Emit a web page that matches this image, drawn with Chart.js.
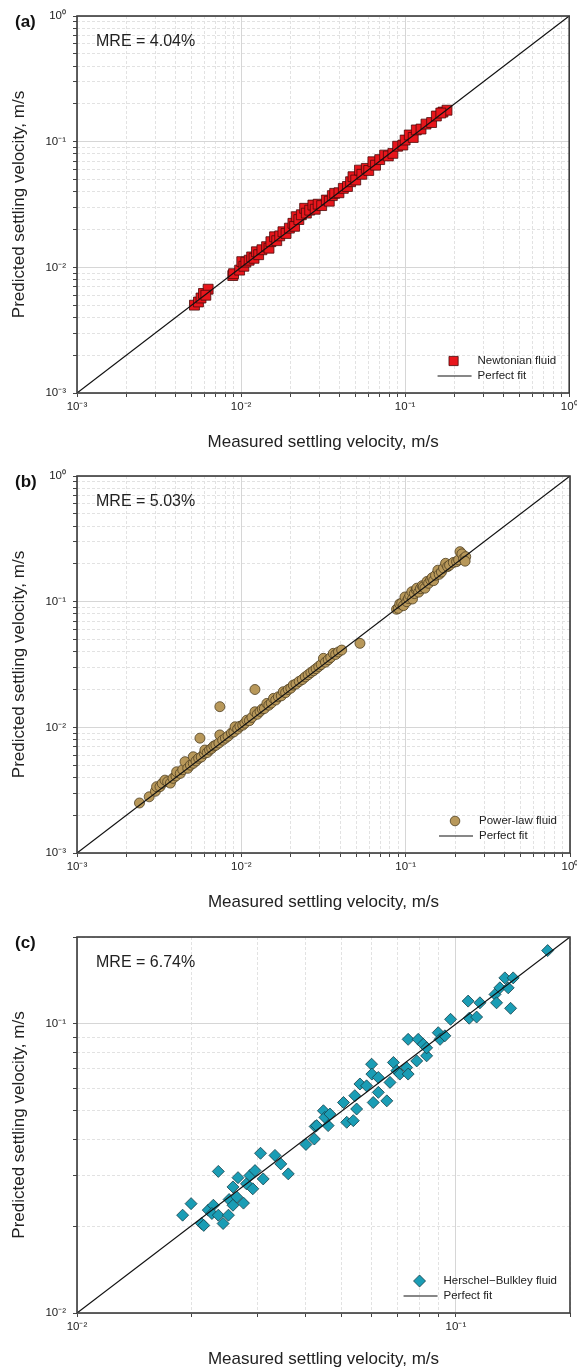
<!DOCTYPE html>
<html>
<head>
<meta charset="utf-8">
<script src="https://cdn.jsdelivr.net/npm/chart.js@4.4.1/dist/chart.umd.min.js"></script>
<style>
  html, body { margin: 0; padding: 0; background: #fff; }
  #wrap { position: relative; width: 577px; height: 1368px; overflow: hidden; }
  canvas { position: absolute; left: 0; }
</style>
</head>
<body>
<div id="wrap">
  <canvas id="chartA" width="577" height="462" style="top:0px"></canvas>
  <canvas id="chartB" width="577" height="460" style="top:462px"></canvas>
  <canvas id="chartC" width="577" height="446" style="top:922px"></canvas>
</div>
<script>
// ---- data (measured vs predicted, m/s) ----

// (a) Newtonian fluid
const newtonianMeasured = [
  0.0052, 0.0055, 0.0057, 0.0059, 0.0063, 0.0061, 0.0089, 0.0090, 0.0098, 0.0101,
  0.0104, 0.0107, 0.0112, 0.0116, 0.0120, 0.0124, 0.0128, 0.0134, 0.0143, 0.0148,
  0.0152, 0.0160, 0.0165, 0.0172, 0.0180, 0.0188, 0.0197, 0.0207, 0.0212, 0.0217,
  0.0225, 0.0233, 0.0244, 0.0250, 0.0262, 0.0274, 0.0283, 0.0295, 0.0310, 0.0331,
  0.0345, 0.0360, 0.0372, 0.0395, 0.0420, 0.0445, 0.0465, 0.0481, 0.0500, 0.0527,
  0.0545, 0.0580, 0.0600, 0.0636, 0.0660, 0.0700, 0.0750, 0.0790, 0.0842, 0.0900,
  0.0968, 0.1000, 0.1060, 0.1120, 0.1170, 0.1250, 0.1340, 0.1450, 0.1550, 0.1700,
  0.1800, 0.1650
];
const newtonianPredicted = [
  0.0050, 0.0053, 0.0057, 0.0062, 0.0067, 0.0060, 0.0086, 0.0089, 0.0095, 0.0111,
  0.0102, 0.0110, 0.0114, 0.0121, 0.0118, 0.0133, 0.0126, 0.0138, 0.0146, 0.0142,
  0.0160, 0.0175, 0.0163, 0.0178, 0.0192, 0.0186, 0.0205, 0.0224, 0.0212, 0.0253,
  0.0240, 0.0262, 0.0295, 0.0270, 0.0285, 0.0313, 0.0290, 0.0318, 0.0310, 0.0343,
  0.0336, 0.0372, 0.0388, 0.0392, 0.0425, 0.0440, 0.0480, 0.0526, 0.0495, 0.0594,
  0.0550, 0.0613, 0.0590, 0.0692, 0.0650, 0.0720, 0.0782, 0.0770, 0.0807, 0.0920,
  0.0940, 0.1030, 0.1130, 0.1080, 0.1240, 0.1260, 0.1380, 0.1420, 0.1600, 0.1720,
  0.1780, 0.1690
];

// (b) Power-law fluid
const powerLawMeasured = [
  0.0024, 0.00275, 0.0030, 0.00305, 0.0032, 0.0033, 0.00343, 0.00356, 0.0037, 0.00384,
  0.0040, 0.00404, 0.00425, 0.0044, 0.00454, 0.00472, 0.0049, 0.0051, 0.0051, 0.0053,
  0.0055, 0.0056, 0.0057, 0.00595, 0.0060, 0.0062, 0.0064, 0.0066, 0.0068, 0.0070,
  0.0073, 0.0074, 0.0074, 0.0077, 0.0080, 0.0083, 0.0087, 0.0090, 0.00916, 0.0095,
  0.0098, 0.0102, 0.0105, 0.0108, 0.0112, 0.0116, 0.0121, 0.0121, 0.0125, 0.0130,
  0.0134, 0.0138, 0.0143, 0.0147, 0.0152, 0.0157, 0.0162, 0.0168, 0.0175, 0.0180,
  0.0186, 0.0193, 0.0200, 0.0207, 0.0215, 0.0225, 0.0235, 0.0245, 0.0255, 0.0265,
  0.0275, 0.0285, 0.0296, 0.0306, 0.0316, 0.0325, 0.0338, 0.0350, 0.0363, 0.0375,
  0.0390, 0.0408, 0.0527, 0.0880, 0.0903, 0.0920, 0.0946, 0.0970, 0.0990, 0.1016,
  0.1040, 0.1060, 0.1090, 0.1100, 0.1130, 0.1160, 0.1170, 0.1200, 0.1230, 0.1260,
  0.1280, 0.1310, 0.1350, 0.1380, 0.1420, 0.1450, 0.1480, 0.1520, 0.1570, 0.1600,
  0.1650, 0.1700, 0.1750, 0.1800, 0.1850, 0.1950, 0.2040, 0.2100, 0.2140, 0.2200,
  0.2250, 0.2320, 0.2300
];
const powerLawPredicted = [
  0.0025, 0.0028, 0.0031, 0.00337, 0.00337, 0.00358, 0.0038, 0.00369, 0.0036, 0.00393,
  0.0041, 0.00443, 0.0043, 0.0046, 0.00533, 0.00472, 0.0050, 0.00517, 0.00583, 0.0054,
  0.00567, 0.0082, 0.0058, 0.0062, 0.0066, 0.0063, 0.0066, 0.0068, 0.0071, 0.0072,
  0.0075, 0.0087, 0.0146, 0.0079, 0.0082, 0.0085, 0.0090, 0.0092, 0.0101, 0.0097,
  0.0102, 0.0104, 0.0108, 0.0114, 0.0113, 0.0120, 0.0133, 0.0200, 0.0127, 0.0134,
  0.0140, 0.0141, 0.0155, 0.0150, 0.0156, 0.0170, 0.0165, 0.0175, 0.0178, 0.0192,
  0.0189, 0.0200, 0.0205, 0.0217, 0.0221, 0.0232, 0.0240, 0.0252, 0.0262, 0.0273,
  0.0282, 0.0293, 0.0305, 0.0316, 0.0354, 0.0330, 0.0345, 0.0360, 0.0388, 0.0380,
  0.0398, 0.0412, 0.0466, 0.0870, 0.0885, 0.0960, 0.0970, 0.0930, 0.1090, 0.1000,
  0.1060, 0.1120, 0.1200, 0.1050, 0.1160, 0.1240, 0.1280, 0.1190, 0.1270, 0.1340,
  0.1310, 0.1280, 0.1450, 0.1400, 0.1490, 0.1550, 0.1470, 0.1620, 0.1780, 0.1650,
  0.1720, 0.1850, 0.2020, 0.1900, 0.1950, 0.2050, 0.2080, 0.2150, 0.2500, 0.2400,
  0.2200, 0.2280, 0.2100
];

// (c) Herschel-Bulkley fluid
const hbMeasured = [
  0.0190, 0.0200, 0.0213, 0.0216, 0.0222, 0.0229, 0.0227, 0.0236, 0.0236, 0.0243,
  0.0251, 0.0252, 0.0258, 0.0258, 0.0264, 0.0266, 0.0275, 0.0280, 0.0286, 0.0291,
  0.0295, 0.0305, 0.0310, 0.0333, 0.0345, 0.0361, 0.0402, 0.0423, 0.0425, 0.0429,
  0.0447, 0.0451, 0.0460, 0.0465, 0.0505, 0.0515, 0.0536, 0.0541, 0.0547, 0.0558,
  0.0581, 0.0599, 0.0600, 0.0605, 0.0624, 0.0624, 0.0657, 0.0670, 0.0684, 0.0698,
  0.0711, 0.0741, 0.0748, 0.0748, 0.0788, 0.0795, 0.0820, 0.0837, 0.0837, 0.0898,
  0.0908, 0.0935, 0.0968, 0.1077, 0.1084, 0.1134, 0.1157, 0.1268, 0.1280, 0.1306,
  0.1346, 0.1374, 0.1394, 0.1416, 0.1746
];
const hbPredicted = [
  0.0218, 0.0239, 0.0204, 0.0201, 0.0227, 0.0236, 0.0221, 0.0309, 0.0218, 0.0204,
  0.0218, 0.0247, 0.0273, 0.0236, 0.0252, 0.0294, 0.0240, 0.0280, 0.0299, 0.0269,
  0.0311, 0.0357, 0.0291, 0.0351, 0.0328, 0.0303, 0.0383, 0.0400, 0.0442, 0.0445,
  0.0501, 0.0475, 0.0445, 0.0488, 0.0535, 0.0457, 0.0463, 0.0565, 0.0508, 0.0620,
  0.0611, 0.0726, 0.0671, 0.0535, 0.0653, 0.0580, 0.0542, 0.0628, 0.0736, 0.0689,
  0.0671, 0.0707, 0.0671, 0.0885, 0.0745, 0.0885, 0.0851, 0.0776, 0.0827, 0.0933,
  0.0885, 0.0910, 0.1038, 0.1200, 0.1047, 0.1057, 0.1184, 0.1266, 0.1184, 0.1334,
  0.1444, 0.1334, 0.1133, 0.1444, 0.1795
];

// axis ranges and labelled ticks
const rangeAB = [0.001, 1];
const rangeC = [0.01, 0.2];
const majorTicksAB = [0.001, 0.01, 0.1, 1];
const majorLabelsAB = ['10\u207B\u00B3', '10\u207B\u00B2', '10\u207B\u00B9', '10\u2070'];
const majorTicksC = [0.01, 0.1];
const majorLabelsC = ['10\u207B\u00B2', '10\u207B\u00B9'];

const panelLabels = ['(a)', '(b)', '(c)'];
const mreTexts = ['MRE = 4.04%', 'MRE = 5.03%', 'MRE = 6.74%'];
const fluidNames = ['Newtonian fluid', 'Power-law fluid', 'Herschel\u2212Bulkley fluid'];
const fitName = 'Perfect fit';
const xTitle = 'Measured settling velocity, m/s';
const yTitle = 'Predicted settling velocity, m/s';

const FONT = "'Liberation Sans', Arial, Helvetica, sans-serif";
Chart.defaults.font.family = FONT;

// grid lines at 1..9 x each decade, up to the axis max
function gridValues(range) {
  const vals = [];
  for (let d = range[0]; d < range[1] * 0.999; d *= 10) {
    for (let k = 1; k <= 9; k++) {
      const v = parseFloat((d * k).toPrecision(6));
      if (v <= range[1] * 1.0001) vals.push(v);
    }
  }
  if (Math.abs(vals[vals.length - 1] - range[1]) > range[1] * 1e-6) vals.push(range[1]);
  return vals;
}

function findMajor(v, majors) {
  return majors.findIndex(m => Math.abs(Math.log10(v) - Math.log10(m)) < 1e-6);
}

function pairUp(xs, ys) {
  return xs.map((x, i) => ({ x: x, y: ys[i] }));
}

function drawMarker(ctx, style, x, y, r) {
  ctx.beginPath();
  if (style === 'rect') {
    const s = r * Math.SQRT1_2;
    ctx.rect(x - s, y - s, 2 * s, 2 * s);
  } else if (style === 'rectRot') {
    ctx.moveTo(x, y - r); ctx.lineTo(x + r, y); ctx.lineTo(x, y + r); ctx.lineTo(x - r, y); ctx.closePath();
  } else {
    ctx.arc(x, y, r, 0, Math.PI * 2);
  }
  ctx.fill();
  ctx.stroke();
}

// frame, panel letter, MRE note and the little legend in the bottom-right corner
const decorPlugin = {
  id: 'decor',
  afterDraw(chart, args, opts) {
    const { ctx, chartArea: a } = chart;
    ctx.save();
    ctx.strokeStyle = '#3a3a3a';
    ctx.lineWidth = 1.6;
    ctx.strokeRect(a.left, a.top, a.right - a.left, a.bottom - a.top);

    ctx.fillStyle = '#111';
    ctx.textBaseline = 'middle';
    ctx.textAlign = 'left';
    ctx.font = 'bold 17px ' + FONT;
    ctx.fillText(opts.label, 15, a.top + 6);

    ctx.font = '16px ' + FONT;
    ctx.fillStyle = '#222';
    ctx.fillText(opts.mre, a.left + 19, a.top + 26);

    // legend
    ctx.font = '11.5px ' + FONT;
    const tw = ctx.measureText(opts.name).width;
    const tx = a.right - 13 - tw;
    const y1 = a.bottom - 32;
    const y2 = y1 + 15;
    ctx.fillStyle = opts.fill;
    ctx.strokeStyle = opts.edge;
    ctx.lineWidth = 0.8;
    drawMarker(ctx, opts.style, tx - 24, y1, opts.legendRadius);
    ctx.strokeStyle = '#111';
    ctx.lineWidth = 1.2;
    ctx.beginPath();
    ctx.moveTo(tx - 40, y2);
    ctx.lineTo(tx - 6, y2);
    ctx.stroke();
    ctx.fillStyle = '#222';
    ctx.fillText(opts.name, tx, y1);
    ctx.fillText(fitName, tx, y2);
    ctx.restore();
  }
};

function logAxis(axis, range, majors, labels, canvasH, chartBottom, titlePad) {
  const grids = gridValues(range);
  const isX = axis === 'x';
  return {
    type: 'logarithmic',
    position: isX ? 'bottom' : 'left',
    min: range[0],
    max: range[1],
    afterBuildTicks: (s) => { s.ticks = grids.map(v => ({ value: v })); },
    afterFit: (s) => {
      if (isX) s.height = canvasH - chartBottom; else s.width = 77;
      s.paddingLeft = 0; s.paddingRight = 0; s.paddingTop = 0; s.paddingBottom = 0;
    },
    ticks: {
      autoSkip: false,
      maxRotation: 0,
      minRotation: 0,
      padding: isX ? 3 : 7,
      color: '#222',
      font: { size: 11.5 },
      callback: (v) => {
        const i = findMajor(v, majors);
        return i >= 0 ? labels[i] : '';
      }
    },
    grid: {
      color: (c) => (c.tick && findMajor(c.tick.value, majors) >= 0) ? '#d6d6d6' : '#e2e2e2',
      lineWidth: 1,
      drawTicks: true,
      tickLength: 4,
      tickColor: '#444',
      tickWidth: 1
    },
    border: {
      display: false,
      dash: (c) => (c.tick && findMajor(c.tick.value, majors) >= 0) ? [] : [3, 2]
    },
    title: {
      display: true,
      text: isX ? xTitle : yTitle,
      color: '#222',
      font: { size: 17, lineHeight: 1 },
      padding: isX ? { top: 0, bottom: titlePad } : { top: titlePad, bottom: 0 }
    }
  };
}

function makePanel(id, idx, xs, ys, range, majors, labels, look, layoutBox) {
  const canvas = document.getElementById(id);
  const H = canvas.height;
  return new Chart(canvas, {
    type: 'scatter',
    data: {
      datasets: [
        {
          label: fitName,
          type: 'line',
          data: [{ x: range[0], y: range[0] }, { x: range[1], y: range[1] }],
          borderColor: '#111',
          borderWidth: 1.2,
          pointRadius: 0,
          fill: false,
          order: 0
        },
        {
          label: fluidNames[idx],
          data: pairUp(xs, ys),
          pointStyle: look.style,
          pointRadius: look.radius,
          pointBackgroundColor: look.fill,
          pointBorderColor: look.edge,
          pointBorderWidth: 0.8,
          showLine: false,
          order: 1
        }
      ]
    },
    options: {
      responsive: false,
      animation: false,
      events: [],
      layout: { padding: { top: layoutBox.top, right: 7, left: 0, bottom: 0 } },
      scales: {
        x: logAxis('x', range, majors, labels, H, layoutBox.bottom, layoutBox.xTitlePad),
        y: logAxis('y', range, majors, labels, H, layoutBox.bottom, 10.5)
      },
      plugins: {
        legend: { display: false },
        tooltip: { enabled: false },
        decor: {
          label: panelLabels[idx],
          mre: mreTexts[idx],
          name: fluidNames[idx],
          style: look.style,
          fill: look.fill,
          edge: look.edge,
          legendRadius: look.legendRadius
        }
      }
    },
    plugins: [decorPlugin]
  });
}

makePanel('chartA', 0, newtonianMeasured, newtonianPredicted, rangeAB, majorTicksAB, majorLabelsAB,
  { style: 'rect', radius: 7, legendRadius: 6.5, fill: '#e8161c', edge: '#4a0a0a' },
  { top: 16, bottom: 393, xTitlePad: 11.5 });

makePanel('chartB', 1, powerLawMeasured, powerLawPredicted, rangeAB, majorTicksAB, majorLabelsAB,
  { style: 'circle', radius: 5, legendRadius: 4.8, fill: '#b8985a', edge: '#4e3f22' },
  { top: 14, bottom: 391, xTitlePad: 11.5 });

makePanel('chartC', 2, hbMeasured, hbPredicted, rangeC, majorTicksC, majorLabelsC,
  { style: 'rectRot', radius: 6, legendRadius: 6, fill: '#1a9db5', edge: '#173f48' },
  { top: 15, bottom: 391, xTitlePad: 0 });
</script>
</body>
</html>
